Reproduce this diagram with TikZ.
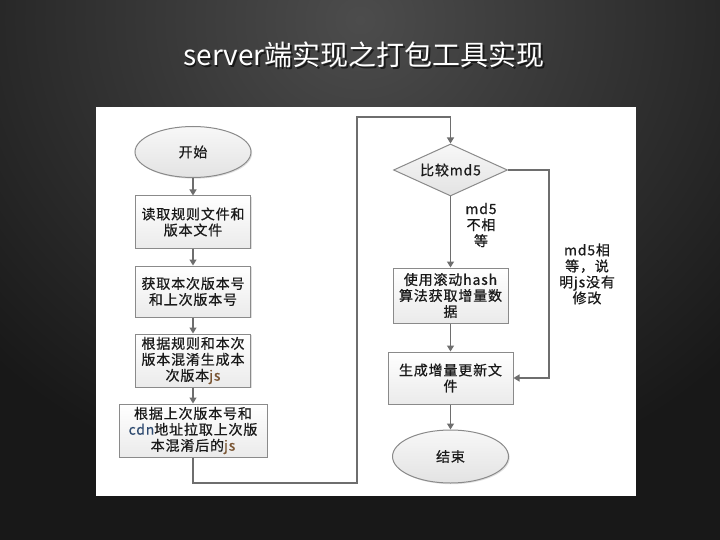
\documentclass[tikz,border=0pt]{standalone}
\usepackage{fontspec}
\setmainfont{Noto Sans CJK SC}
\newfontfamily\boxfont[LetterSpace=6,FakeBold=0.6]{Noto Sans CJK SC}
\newfontfamily\titlefont{Noto Sans CJK SC}
\usetikzlibrary{shapes.geometric,arrows.meta,shadows}
\definecolor{bgdark}{HTML}{181818}
\definecolor{bglight}{HTML}{4C4C4C}
\definecolor{linec}{HTML}{6E6E6E}
\definecolor{borderc}{HTML}{8A8A8A}
\definecolor{txt}{HTML}{1A1A1A}
\definecolor{jsc}{HTML}{7A5533}
\definecolor{cdnc}{HTML}{2E4A70}
\tikzset{
  flowbox/.style={rectangle, draw=borderc, line width=1pt, top color=white, bottom color=gray!16,
    text=txt, font=\boxfont\fontsize{14}{16}\selectfont, align=center, inner sep=1pt,
    drop shadow={shadow xshift=1.2pt, shadow yshift=-1.2pt, opacity=0.25, fill=gray}},
  terminal/.style={ellipse, draw=borderc, line width=1pt, top color=gray!6, bottom color=gray!22,
    text=txt, font=\boxfont\fontsize{14}{16}\selectfont, inner sep=0pt,
    drop shadow={shadow xshift=1.2pt, shadow yshift=-1.2pt, opacity=0.25, fill=gray}},
  decision/.style={diamond, draw=borderc, line width=1pt, top color=gray!6, bottom color=gray!22,
    text=txt, font=\boxfont\fontsize{14}{16}\selectfont, inner sep=0pt, aspect=2.2},
  flowline/.style={draw=linec, line width=1.2pt, -{Triangle[width=7pt,length=6pt]}},
  note/.style={text=txt, font=\boxfont\fontsize{14}{16}\selectfont, align=center, inner sep=0pt},
}
\begin{document}
\begin{tikzpicture}[x=1pt,y=-1pt]
\useasboundingbox (0,0) rectangle (720,540);
% background
\fill[bgdark] (0,0) rectangle (720,540);
\begin{scope}
  \clip (0,0) rectangle (720,540);
  \shade[inner color=bglight, outer color=bgdark] (360,20) ellipse (520 and 480);
\end{scope}
% title
\node[text=black, opacity=0.6, font=\titlefont\fontsize{28}{30}\selectfont] (titleshadow) at (365.5,56.5) {server端实现之打包工具实现};
\node[text=white, font=\titlefont\fontsize{28}{30}\selectfont] (title) at (364,55) {server端实现之打包工具实现};
% panel
\fill[white] (96,107) rectangle (636,496);
% left column
\node[terminal, minimum width=116pt, minimum height=51pt] (start) at (193,152) {开始};
\node[flowbox, minimum width=115pt, minimum height=52pt] (b1) at (193,222) {读取规则文件和\\版本文件};
\node[flowbox, minimum width=115pt, minimum height=51pt] (b2) at (193,291.5) {获取本次版本号\\和上次版本号};
\node[flowbox, minimum width=115pt, minimum height=53pt] (b3) at (193,360.5) {根据规则和本次\\版本混淆生成本\\次版本\textcolor{jsc}{js}};
\node[flowbox, minimum width=148pt, minimum height=53pt] (b4) at (193,430.5) {根据上次版本号和\\\textcolor{cdnc}{cdn}地址拉取上次版\\本混淆后的\textcolor{jsc}{js}};
% right column
\node[decision, minimum width=114pt, minimum height=52pt] (cmp) at (450.5,170) {比较md5};
\node[flowbox, minimum width=115pt, minimum height=55pt] (hash) at (450.5,295.5) {使用滚动hash\\算法获取增量数\\据};
\node[flowbox, minimum width=125pt, minimum height=52pt] (gen) at (450.5,378) {生成增量更新文\\件};
\node[terminal, minimum width=116pt, minimum height=53pt] (stop) at (450.5,456.5) {结束};
% labels
\node[note] (neq) at (481,225) {md5\\不相\\等};
\node[note] (eq) at (587,274) {md5相\\等，说\\明js没有\\修改};
% connector coordinates
\coordinate (c1) at (193,483);
\coordinate (c2) at (357,483);
\coordinate (c3) at (357,117);
\coordinate (c4) at (450.5,117);
\coordinate (r1) at (549,170);
\coordinate (r2) at (549,378);
% connectors
\draw[flowline] (start) -- (b1);
\draw[flowline] (b1) -- (b2);
\draw[flowline] (b2) -- (b3);
\draw[flowline] (b3) -- (b4);
\draw[flowline] (b4.south) -- (c1) -- (c2) -- (c3) -- (c4) -- (cmp.north);
\draw[flowline] (cmp.south) -- (hash.north);
\draw[flowline] (hash) -- (gen);
\draw[flowline] (gen) -- (stop);
\draw[flowline] (cmp.east) -- (r1) -- (r2) -- (gen.east);
\end{tikzpicture}
\end{document}
